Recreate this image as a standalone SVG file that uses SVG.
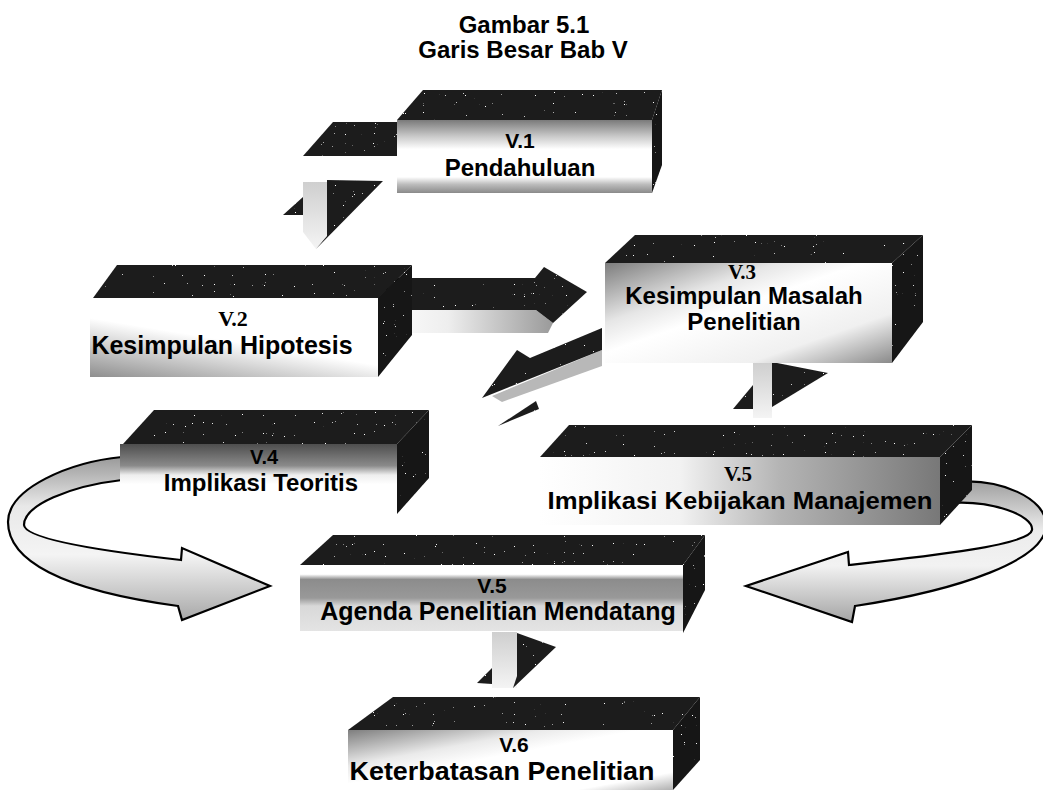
<svg xmlns="http://www.w3.org/2000/svg" width="1043" height="790" viewBox="0 0 1043 790">
<style>
  .top{fill:#1e1e1e;filter:url(#speck)}
  .side{fill:#141414;filter:url(#speck)}
  .t{font-family:"Liberation Sans",Arial,sans-serif;font-weight:bold;fill:#000;text-anchor:middle}
  .ts{font-family:"Liberation Serif","Times New Roman",serif;font-weight:bold;fill:#000;text-anchor:middle}
  .curve{stroke:#000;stroke-width:2.2;stroke-linejoin:miter}
</style>
<defs>
  <filter id="speck" x="0" y="0" width="100%" height="100%">
    <feTurbulence type="fractalNoise" baseFrequency="0.9" numOctaves="1" seed="4" result="n"/>
    <feColorMatrix in="n" type="matrix" values="0 0 0 0 1  0 0 0 0 1  0 0 0 0 1  0 0 0 25 -18.6" result="dots"/>
    <feComposite in="dots" in2="SourceGraphic" operator="in" result="clip"/>
    <feMerge><feMergeNode in="SourceGraphic"/><feMergeNode in="clip"/></feMerge>
  </filter>
  <linearGradient id="gV1" x1="0" y1="0" x2="0" y2="1">
    <stop offset="0" stop-color="#7a7a7a"/><stop offset="0.22" stop-color="#c8c8c8"/><stop offset="0.4" stop-color="#fff"/><stop offset="0.78" stop-color="#fff"/><stop offset="0.88" stop-color="#bdbdbd"/><stop offset="1" stop-color="#8a8a8a"/>
  </linearGradient>
  <linearGradient id="gV2" x1="0" y1="1" x2="0.6" y2="0">
    <stop offset="0" stop-color="#8e8e8e"/><stop offset="0.35" stop-color="#d6d6d6"/><stop offset="0.55" stop-color="#fff"/><stop offset="1" stop-color="#fff"/>
  </linearGradient>
  <linearGradient id="gV3" x1="0" y1="0" x2="1" y2="1">
    <stop offset="0" stop-color="#7d7d7d"/><stop offset="0.3" stop-color="#e6e6e6"/><stop offset="0.45" stop-color="#fff"/><stop offset="0.75" stop-color="#f0f0f0"/><stop offset="1" stop-color="#8a8a8a"/>
  </linearGradient>
  <linearGradient id="gV4" x1="0" y1="0" x2="0" y2="1">
    <stop offset="0" stop-color="#4e4e4e"/><stop offset="0.35" stop-color="#8a8a8a"/><stop offset="0.5" stop-color="#eeeeee"/><stop offset="0.65" stop-color="#fff"/><stop offset="1" stop-color="#fff"/>
  </linearGradient>
  <linearGradient id="gV5" x1="0" y1="0" x2="1" y2="0">
    <stop offset="0" stop-color="#fff"/><stop offset="0.35" stop-color="#f2f2f2"/><stop offset="0.6" stop-color="#b4b4b4"/><stop offset="1" stop-color="#787878"/>
  </linearGradient>
  <linearGradient id="gAg" x1="0" y1="0" x2="0" y2="1">
    <stop offset="0" stop-color="#fff"/><stop offset="0.14" stop-color="#fff"/><stop offset="0.22" stop-color="#8c8c8c"/><stop offset="0.5" stop-color="#999"/><stop offset="0.62" stop-color="#d8d8d8"/><stop offset="1" stop-color="#e4e4e4"/>
  </linearGradient>
  <linearGradient id="gV6" x1="0" y1="0" x2="1" y2="1">
    <stop offset="0" stop-color="#7e7e7e"/><stop offset="0.3" stop-color="#eaeaea"/><stop offset="0.45" stop-color="#fff"/><stop offset="0.85" stop-color="#fff"/><stop offset="1" stop-color="#b0b0b0"/>
  </linearGradient>
  <linearGradient id="gShaft" x1="0" y1="0" x2="1" y2="0">
    <stop offset="0" stop-color="#fff"/><stop offset="0.4" stop-color="#eee"/><stop offset="1" stop-color="#9a9a9a"/>
  </linearGradient>
  <linearGradient id="gVert" x1="0" y1="0" x2="0" y2="1">
    <stop offset="0" stop-color="#cfcfcf"/><stop offset="1" stop-color="#f4f4f4"/>
  </linearGradient>
  <linearGradient id="gCurveL" x1="0" y1="0" x2="0" y2="1">
    <stop offset="0" stop-color="#9a9a9a"/><stop offset="0.3" stop-color="#e8e8e8"/><stop offset="0.6" stop-color="#f4f4f4"/><stop offset="1" stop-color="#a8a8a8"/>
  </linearGradient>
  <linearGradient id="gCurveR" x1="0" y1="0" x2="0" y2="1">
    <stop offset="0" stop-color="#a0a0a0"/><stop offset="0.35" stop-color="#ececec"/><stop offset="0.6" stop-color="#f2f2f2"/><stop offset="1" stop-color="#a4a4a4"/>
  </linearGradient>
</defs>
<rect width="1043" height="790" fill="#fff"/>

<g id="title">
  <text class="t" x="524" y="33" font-size="24">Gambar 5.1</text>
  <text class="t" x="523" y="58" font-size="24">Garis Besar Bab V</text>
</g>

<g id="connectors">
  <!-- V.1 -> V.2 -->
  <polygon class="top" points="303,156 333,122 397,122 397,156"/>
  <polygon class="top" points="283,215 303,197 303,215"/>
  <polygon fill="url(#gVert)" points="303,182 327,182 327,236 316,249 303,232"/>
  <polygon class="top" points="327,180 383,181 316,249 327,236"/>
  <!-- V.2 -> V.3 -->
  <polygon fill="url(#gShaft)" points="378,310 536,310 553,323 548,333 378,333"/>
  <polygon class="top" points="378,278 535,278 544,267 587,292 553,323 536,310 378,310"/>
  <!-- V.3 -> V.4 -->
  <polygon fill="#b8b8b8" points="492,396 602,350 602,366 502,402"/>
  <polygon class="top" points="602,328 530,358 517,350 482,398 522,382 602,350"/>
  <polygon class="top" points="498,426 536,401 539,409"/>
  <!-- V.3 -> V.5 -->
  <polygon class="top" points="733,409 753,385 753,409"/>
  <rect x="753" y="363" width="19" height="55" fill="url(#gVert)"/>
  <polygon class="top" points="772,362 828,373 772,407"/>
  <!-- V.4 curved -> Agenda -->
  <path class="curve" fill="url(#gCurveL)" d="M122,457 C70,462 8,488 8,522 C8,560 60,590 178,606 L182,620 L270,586 L182,548 L181,560 C110,552 25,540 24,525 C24,505 70,486 122,480 Z"/>
  <!-- V.5 curved -> Agenda -->
  <path class="curve" fill="url(#gCurveR)" d="M955,482 C1000,478 1046,498 1046,525 C1046,560 960,590 855,606 L852,622 L746,586 L848,552 L849,565 C930,556 1030,545 1032,530 C1034,515 990,500 950,503 Z"/>
  <!-- Agenda -> V.6 -->
  <polygon class="top" points="477,683 492,668 492,684"/>
  <rect x="492" y="632" width="25" height="56" fill="url(#gVert)"/>
  <polygon class="top" points="517,633 556,647 513,688 517,676"/>
</g>

<g id="v1">
  <polygon class="top" points="397,120 423,90 662,90 652,120"/>
  <polygon class="side" points="652,120 662,90 662,165 652,193"/>
  <rect x="397" y="120" width="255" height="73" fill="url(#gV1)"/>
  <text class="t" x="520" y="148" font-size="21">V.1</text>
  <text class="t" x="520" y="176" font-size="24">Pendahuluan</text>
</g>

<g id="v2">
  <polygon class="top" points="93,298 117,265 412,265 378,298"/>
  <polygon class="side" points="378,298 412,265 412,335 378,377"/>
  <rect x="90" y="298" width="288" height="79" fill="url(#gV2)"/>
  <text class="ts" x="233" y="326" font-size="22">V.2</text>
  <text class="t" x="222" y="354" font-size="25">Kesimpulan Hipotesis</text>
</g>

<g id="v3">
  <polygon class="top" points="605,263 635,235 923,235 892,263"/>
  <polygon class="side" points="892,263 923,235 923,322 892,363"/>
  <rect x="605" y="263" width="287" height="100" fill="url(#gV3)"/>
  <text class="ts" x="742" y="279" font-size="21">V.3</text>
  <text class="t" x="744" y="304" font-size="24">Kesimpulan Masalah</text>
  <text class="t" x="744" y="330" font-size="24">Penelitian</text>
</g>

<g id="v4">
  <polygon class="top" points="123,444 154,410 429,410 397,444"/>
  <polygon class="side" points="397,444 429,410 429,478 397,514"/>
  <rect x="120" y="444" width="277" height="62" fill="url(#gV4)"/>
  <text class="t" x="264" y="464" font-size="20">V.4</text>
  <text class="t" x="261" y="491" font-size="24">Implikasi Teoritis</text>
</g>

<g id="v5">
  <polygon class="top" points="540,457 569,425 972,425 940,457"/>
  <polygon class="side" points="940,457 972,425 972,490 940,525"/>
  <rect x="540" y="457" width="400" height="68" fill="url(#gV5)"/>
  <text class="ts" x="738" y="481" font-size="21">V.5</text>
  <text class="t" x="740" y="509" font-size="24" textLength="385" lengthAdjust="spacingAndGlyphs">Implikasi Kebijakan Manajemen</text>
</g>

<g id="agenda">
  <polygon class="top" points="300,565 333,535 705,535 683,565"/>
  <polygon class="side" points="683,565 705,535 705,590 683,633"/>
  <rect x="300" y="565" width="383" height="66" fill="url(#gAg)"/>
  <text class="t" x="492" y="593" font-size="21">V.5</text>
  <text class="t" x="498" y="620" font-size="25">Agenda Penelitian Mendatang</text>
</g>

<g id="v6">
  <polygon class="top" points="348,730 393,697 700,697 673,730"/>
  <polygon class="side" points="673,730 700,697 700,760 673,790"/>
  <rect x="348" y="730" width="325" height="60" fill="url(#gV6)"/>
  <text class="t" x="514" y="752" font-size="21">V.6</text>
  <text class="t" x="502" y="780" font-size="25" textLength="305" lengthAdjust="spacingAndGlyphs">Keterbatasan Penelitian</text>
</g>
</svg>
